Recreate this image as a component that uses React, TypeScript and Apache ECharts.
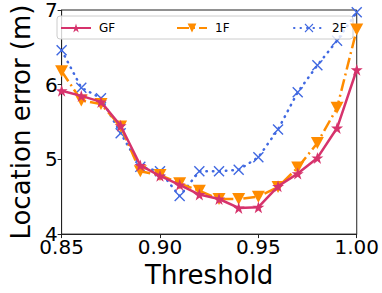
import React, { useEffect, useRef } from "react";
import * as echarts from "echarts";

const thresholds = [0.85, 0.86, 0.87, 0.88, 0.89, 0.9, 0.91, 0.92, 0.93, 0.94, 0.95, 0.96, 0.97, 0.98, 0.99, 1.0];
const gfValues = [5.92, 5.85, 5.77, 5.45, 4.92, 4.78, 4.66, 4.53, 4.47, 4.35, 4.36, 4.64, 4.81, 5.02, 5.42, 6.2];
const oneFValues = [6.18, 5.79, 5.74, 5.44, 4.84, 4.79, 4.68, 4.58, 4.47, 4.47, 4.5, 4.63, 4.89, 5.22, 5.69, 6.74];
const twoFValues = [6.46, 5.96, 5.82, 5.35, 4.9, 4.84, 4.51, 4.84, 4.84, 4.86, 5.03, 5.4, 5.9, 6.26, 6.59, 6.97];
const seriesNames = ["GF", "1F", "2F"];
const seriesColors = ["#d6336c", "#ff8c00", "#4169e1"];

const STAR = "path://M50 0 L61.23 34.55 L97.55 34.55 L68.17 55.9 L79.39 90.45 L50 69.1 L20.61 90.45 L31.83 55.9 L2.45 34.55 L38.77 34.55 Z";
const XMARK = "path://M0 9 L9 0 L50 41 L91 0 L100 9 L59 50 L100 91 L91 100 L50 59 L9 100 L0 91 L41 50 Z";

const FONT = "DejaVu Sans";

export default function App() {
  const ref = useRef<HTMLDivElement>(null);
  useEffect(() => {
    if (!ref.current) return;
    const chart = echarts.init(ref.current, null, { renderer: "svg" });
    const pair = (vals: number[]) => thresholds.map((t, i) => [t, vals[i]]);
    const legendCommon = {
      top: 22,
      itemWidth: 30,
      itemHeight: 11,
      textStyle: { fontFamily: FONT, fontSize: 12, color: "#000", padding: [0, 0, 0, 3] },
      padding: 0,
    };
    chart.setOption({
      animation: false,
      backgroundColor: "#fff",
      grid: { left: 50, right: 23, top: 10, bottom: 52, show: true, borderColor: "#222", borderWidth: 1 },
      xAxis: {
        type: "value",
        min: 0.85,
        max: 1.0,
        interval: 0.05,
        name: "Threshold",
        nameLocation: "middle",
        nameGap: 27,
        nameTextStyle: { fontFamily: FONT, fontSize: 26, color: "#000" },
        axisLine: { show: true, lineStyle: { color: "#222", width: 1 } },
        axisTick: { show: true, length: 4, lineStyle: { color: "#222" } },
        axisLabel: {
          fontFamily: FONT,
          fontSize: 20,
          color: "#000",
          margin: 3,
          formatter: (v: number) => v.toFixed(2),
        },
        splitLine: { show: false },
      },
      yAxis: {
        type: "value",
        min: 4,
        max: 7,
        interval: 1,
        name: "Location error (m)",
        nameLocation: "middle",
        nameGap: 26,
        nameRotate: 90,
        nameTextStyle: { fontFamily: FONT, fontSize: 26, color: "#000" },
        axisLine: { show: true, lineStyle: { color: "#222", width: 1 } },
        axisTick: { show: true, length: 4, lineStyle: { color: "#222" } },
        axisLabel: { fontFamily: FONT, fontSize: 20, color: "#000", margin: 4 },
        splitLine: { show: false },
      },
      graphic: [
        {
          type: "rect",
          z: 3,
          shape: { x: 57, y: 16, width: 296, height: 23, r: 3 },
          style: { fill: "rgba(255,255,255,0.8)", stroke: "#cccccc", lineWidth: 1 },
        },
      ],
      legend: [
        { ...legendCommon, left: 60, data: [seriesNames[0]] },
        { ...legendCommon, left: 176, data: [seriesNames[1]] },
        { ...legendCommon, left: 293, data: [seriesNames[2]] },
      ],
      series: [
        {
          name: seriesNames[0],
          type: "line",
          data: pair(gfValues),
          color: seriesColors[0],
          symbol: STAR,
          symbolSize: 12,
          lineStyle: { width: 2.5, color: seriesColors[0] },
          itemStyle: { color: seriesColors[0] },
          z: 4,
        },
        {
          name: seriesNames[1],
          type: "line",
          data: pair(oneFValues),
          color: seriesColors[1],
          symbol: "triangle",
          symbolRotate: 180,
          symbolSize: [13, 12],
          lineStyle: { width: 2.5, color: seriesColors[1], type: [12, 4, 2, 4] },
          itemStyle: { color: seriesColors[1] },
          z: 3,
        },
        {
          name: seriesNames[2],
          type: "line",
          data: pair(twoFValues),
          color: seriesColors[2],
          symbol: XMARK,
          symbolSize: 11,
          lineStyle: { width: 2.5, color: seriesColors[2], type: [0.5, 6], cap: "round" },
          itemStyle: { color: seriesColors[2] },
          z: 2,
        },
      ],
    });
    return () => chart.dispose();
  }, []);
  return <div ref={ref} style={{ width: 382, height: 293, position: "absolute", left: 0, top: 0 }} />;
}
